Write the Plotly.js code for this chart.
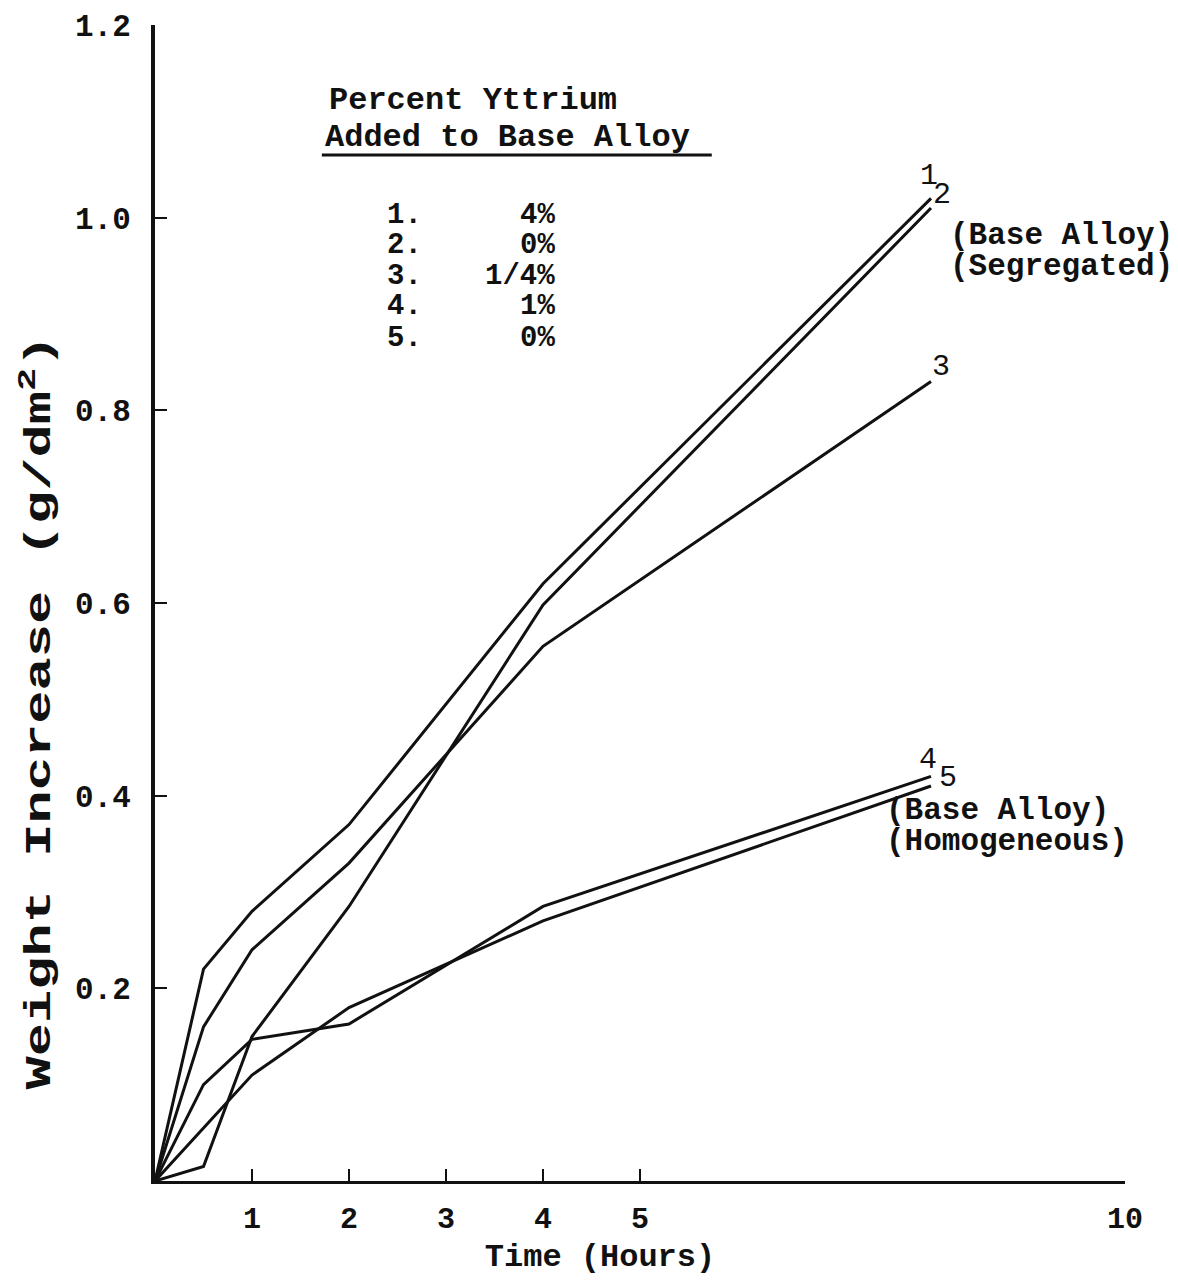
<!DOCTYPE html>
<html>
<head>
<meta charset="utf-8">
<script src="https://cdn.plot.ly/plotly-3.0.1.min.js"></script>
<style>
  html, body { margin: 0; padding: 0; background: #ffffff; }
  #chart { width: 1178px; height: 1280px; }
</style>
</head>
<body>
<div id="chart"></div>
<script>
// Oxidation weight gain versus exposure time for the yttrium-modified alloys
const hours = [0, 0.5, 1, 2, 4, 8];
const yttrium4 = [0, 0.22, 0.28, 0.37, 0.62, 1.02];          // curve 1
const baseSegregated = [0, 0.015, 0.15, 0.285, 0.598, 1.01];  // curve 2
const yttriumQuarter = [0, 0.16, 0.24, 0.33, 0.555, 0.83];    // curve 3
const yttrium1 = [0, 0.10, 0.147, 0.163, 0.285, 0.42];        // curve 4
const hoursHomog = [0, 1, 2, 4, 8];
const baseHomogeneous = [0, 0.11, 0.18, 0.27, 0.41];          // curve 5

const xTicks = [1, 2, 3, 4, 5, 10];
const yTicks = [0.2, 0.4, 0.6, 0.8, 1.0, 1.2];

const keyNumbers = ['1.', '2.', '3.', '4.', '5.'];
const keyPercents = ['4%', '0%', '1/4%', '1%', '0%'];

const MONO = 'Liberation Mono, Courier New, monospace';
const INK = '#111111';

function curve(x, y, name) {
  return {
    type: 'scatter', mode: 'lines', x: x, y: y, name: name,
    line: { color: INK, width: 3 }, hoverinfo: 'skip'
  };
}

const traces = [
  curve(hours, yttrium4, '4%'),
  curve(hours, baseSegregated, '0% (segregated)'),
  curve(hours, yttriumQuarter, '1/4%'),
  curve(hours, yttrium1, '1%'),
  curve(hoursHomog, baseHomogeneous, '0% (homogeneous)')
];

const bold = size => ({ family: MONO, size: size, color: INK, weight: 'bold' });

const txt = (x, y, text, opts) => Object.assign({
  x: x, y: y, xref: 'x', yref: 'y', text: text, showarrow: false,
  xanchor: 'left', yanchor: 'middle', font: bold(31)
}, opts || {});

// key block: header, underline and numbered entries
const annotations = [
  txt(1.773, 1.1215, 'Percent Yttrium', { font: bold(32) }),
  txt(1.732, 1.083, 'Added to Base Alloy', { font: bold(32) })
];
const keyRowY = [1.002, 0.971, 0.939, 0.908, 0.875];
keyNumbers.forEach((n, i) => {
  annotations.push(txt(2.37, keyRowY[i], n, { font: bold(29) }));
  annotations.push(txt(4.14, keyRowY[i], keyPercents[i], { xanchor: 'right', font: bold(29) }));
});

// curve end labels
const endFont = { family: MONO, size: 30, color: INK };
annotations.push(
  txt(7.98, 1.043, '1', { xanchor: 'center', font: endFont }),
  txt(8.11, 1.024, '2', { xanchor: 'center', font: endFont }),
  txt(8.175, 0.982, '(Base Alloy)'),
  txt(8.175, 0.949, '(Segregated)'),
  txt(8.10, 0.845, '3', { xanchor: 'center', font: endFont }),
  txt(7.97, 0.437, '4', { xanchor: 'center', font: endFont }),
  txt(8.18, 0.418, '5', { xanchor: 'center', font: endFont }),
  txt(7.52, 0.385, '(Base Alloy)'),
  txt(7.52, 0.352, '(Homogeneous)')
);

const layout = {
  width: 1178, height: 1280,
  margin: { l: 155, r: 53, t: 25, b: 99 },
  paper_bgcolor: '#ffffff', plot_bgcolor: '#ffffff',
  showlegend: false,
  xaxis: {
    range: [0, 10], tickvals: xTicks, ticktext: xTicks.map(String),
    ticks: 'inside', ticklen: 12, tickwidth: 2, tickcolor: INK,
    showline: true, linewidth: 3, linecolor: INK,
    showgrid: false, zeroline: false, ticklabelstandoff: 8,
    tickfont: bold(30),
    title: { text: 'Time (Hours)', standoff: 20, font: bold(32) }
  },
  yaxis: {
    range: [0, 1.2], tickvals: yTicks, ticktext: yTicks.map(v => v.toFixed(1)),
    ticks: 'inside', ticklen: 12, tickwidth: 2, tickcolor: INK,
    showline: true, linewidth: 4, linecolor: INK,
    showgrid: false, zeroline: false, ticklabelstandoff: 14,
    tickfont: bold(31),
    title: { text: 'Weight Increase (g/dm<sup>2</sup>)', standoff: 20, font: bold(36) }
  },
  shapes: [{
    type: 'line', xref: 'x', yref: 'y', x0: 1.72, x1: 5.74, y0: 1.065, y1: 1.065,
    line: { color: INK, width: 3 }
  }],
  annotations: annotations
};

Plotly.newPlot('chart', traces, layout, { staticPlot: true }).then(gd => {
  // place the axis titles where they sit on the sheet
  const yt = gd.querySelector('.ytitle');
  if (yt) {
    const x = 50, y = 712;
    yt.setAttribute('x', x);
    yt.setAttribute('y', y);
    yt.setAttribute('transform', `rotate(-90,${x},${y})`);
    yt.setAttribute('textLength', 755);
    yt.setAttribute('lengthAdjust', 'spacingAndGlyphs');
  }
  const xt = gd.querySelector('.xtitle');
  if (xt) {
    xt.setAttribute('x', 600);
    xt.setAttribute('y', 1274);
  }
});
</script>
</body>
</html>
